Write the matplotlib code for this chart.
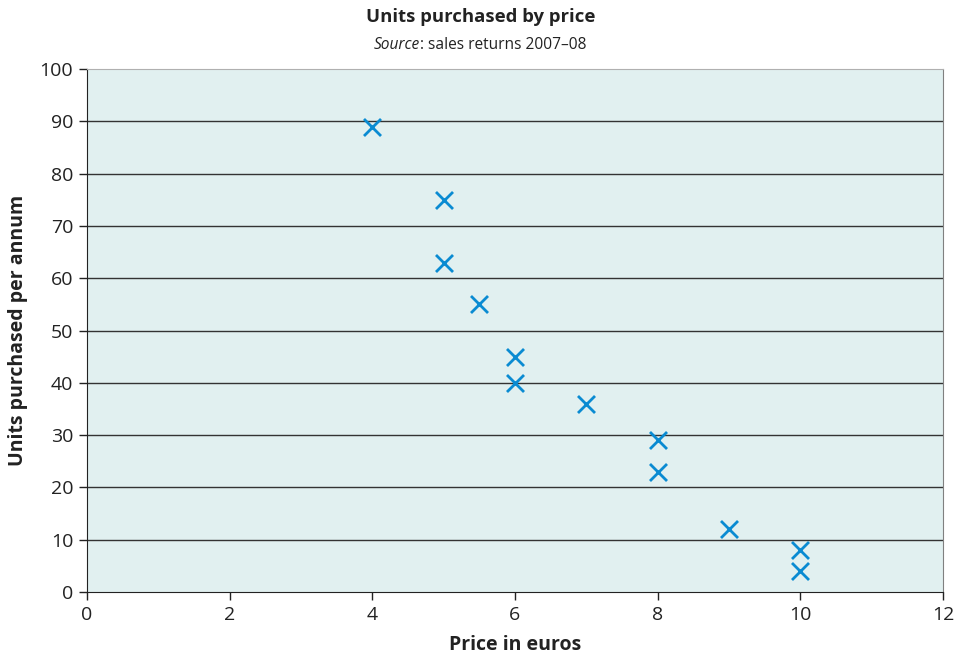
import matplotlib
matplotlib.use("Agg")
import matplotlib.pyplot as plt

plt.rcParams['font.family'] = ['Open Sans', 'DejaVu Sans']

price = [4, 5, 5, 5.5, 6, 6, 7, 8, 8, 9, 10, 10]
units = [89, 75, 63, 55, 45, 40, 36, 29, 23, 12, 8, 4]
x_ticks = [0, 2, 4, 6, 8, 10, 12]
y_ticks = [0, 10, 20, 30, 40, 50, 60, 70, 80, 90, 100]

fig = plt.figure(figsize=(9.61, 6.56), dpi=100)
ax = fig.add_axes([87/961, 1-592/656, (943-87)/961, (592-69)/656])
ax.set_facecolor('#e1f0f0')
ax.set_xlim(0, 12)
ax.set_ylim(0, 100)
ax.set_xticks(x_ticks)
ax.set_yticks(y_ticks)
for y in y_ticks[1:-1]:
    ax.axhline(y, color='#333333', lw=1.0, zorder=1)
ax.scatter(price, units, marker='x', s=150, color='#0a8bd2', linewidths=2.0, zorder=3)

ax.spines['top'].set_color('#b0b0b0')
ax.spines['right'].set_color('#808080')
ax.spines['left'].set_color('#222222')
ax.spines['bottom'].set_color('#222222')
ax.tick_params(axis='both', direction='out', length=6, width=1, colors='#222222', labelsize=14, pad=4)

ax.set_xlabel('Price in euros', fontsize=14, fontweight='bold', color='#222222', labelpad=8)
ax.set_ylabel('Units purchased per annum', fontsize=14, fontweight='bold', color='#222222', labelpad=8)

fig.text(0.5, 1-17/656, 'Units purchased by price', ha='center', va='center', fontsize=13.3, fontweight='bold', color='#222222')
# subtitle with italic part
t1 = fig.text(0, 0, 'Source', fontsize=11.2, style='italic', color='#222222', va='center')
t2 = fig.text(0, 0, ': sales returns 2007\u201308', fontsize=11.2, color='#222222', va='center')
fig.canvas.draw()
r = fig.canvas.get_renderer()
w1 = t1.get_window_extent(r).width
w2 = t2.get_window_extent(r).width
total = w1 + w2
x0 = (961 - total) / 2
yy = 1 - 45/656
t1.set_position((x0/961, yy))
t2.set_position(((x0 + w1)/961, yy))

fig.savefig('out.png', dpi=100)
